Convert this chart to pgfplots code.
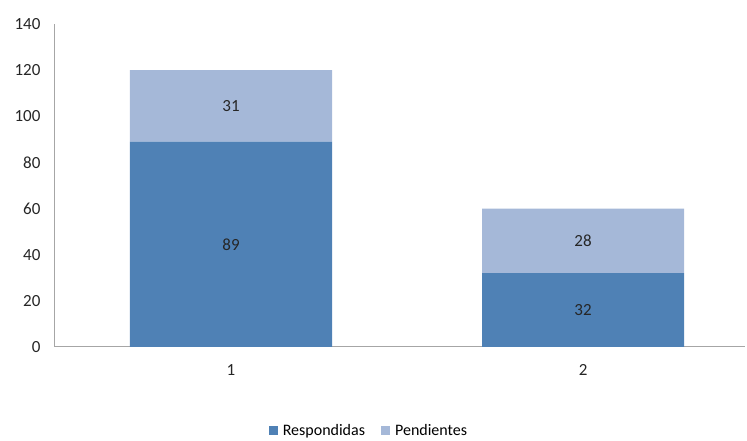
\documentclass[border=0pt]{standalone}
\usepackage{fontspec}
\setmainfont{Carlito}
\usepackage{pgfplots}
\pgfplotsset{compat=1.18}
\definecolor{resp}{HTML}{4F81B5}
\definecolor{pend}{HTML}{A5B8D8}
\definecolor{axgray}{HTML}{A6A6A6}
\begin{document}
\begin{tikzpicture}[x=1pt,y=1pt]
\path[use as bounding box] (-55,-94) rectangle (692,347);
\begin{axis}[
  at={(0,0)}, anchor=origin,
  scale only axis, width=690pt, height=323pt,
  ybar stacked, bar width=0.574,
  xmin=0.5, xmax=2.46, ymin=0, ymax=140,
  xtick={1,2}, ytick={0,20,...,140},
  major tick length=0pt,
  axis x line*=bottom, axis y line*=left,
  axis line style={axgray, line width=1pt},
  tick label style={font=\fontsize{17}{19}\selectfont, text=black!85},
  /pgf/number format/assume math mode=true,
  yticklabel style={xshift=-11pt},
  xticklabel style={yshift=-14pt},
  point meta=explicit,
  nodes near coords,
  every node near coord/.append style={anchor=center, font=\fontsize{17}{19}\selectfont, text=black!85},
  legend style={at={(0.455,-0.258)}, anchor=center, draw=none, fill=none, legend columns=2, font=\fontsize{16}{17}\selectfont, inner sep=0pt, /tikz/every odd column/.append style={column sep=3pt}, /tikz/every even column/.append style={column sep=14pt}},
  legend image code/.code={\fill[#1] (0pt,-4.5pt) rectangle (9pt,4.5pt);},
]
\addplot[fill=resp, draw=none] coordinates {(1,89) [89] (2,32) [32]};
\addplot[fill=pend, draw=none] coordinates {(1,31) [31] (2,28) [28]};
\legend{Respondidas, Pendientes}
\end{axis}
\end{tikzpicture}
\end{document}
